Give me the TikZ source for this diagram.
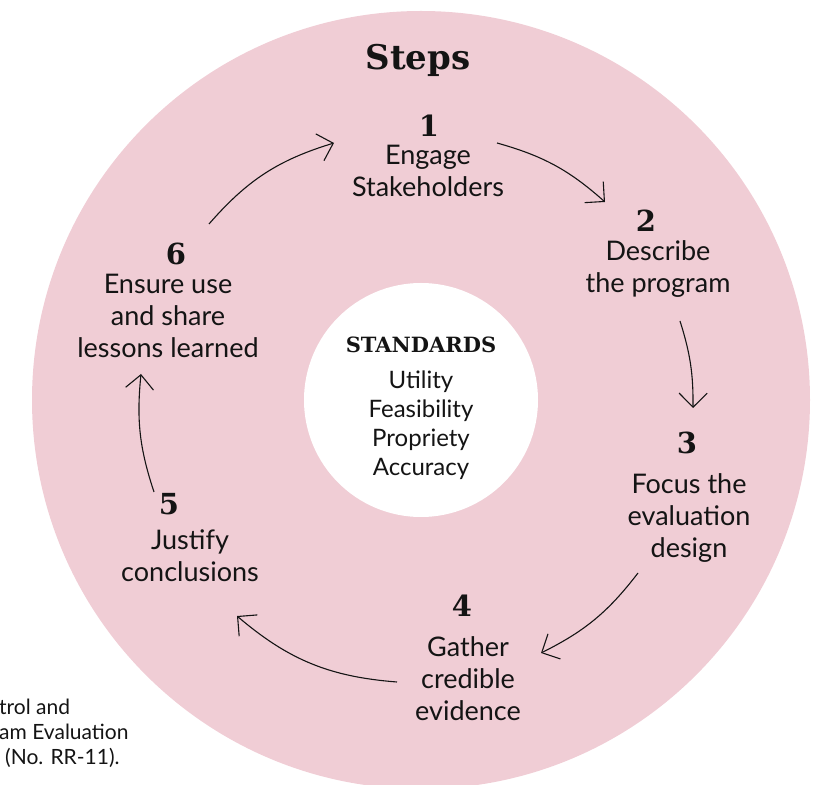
\documentclass[tikz,border=0pt]{standalone}
\usepackage{fontspec}
\usepackage{xcolor}
\usetikzlibrary{arrows.meta}
\newfontfamily\stepfont{Lato}
\newfontfamily\headfont{DejaVu Serif}
\definecolor{ringpink}{RGB}{240,205,213}
\definecolor{inkc}{RGB}{20,20,20}

\tikzset{
  steptext/.style={font=\stepfont\fontsize{27}{32}\selectfont, align=center, anchor=base, inner sep=0pt, text=inkc},
  stepnum/.style={font=\headfont\bfseries\fontsize{29}{29}\selectfont, anchor=base, inner sep=0pt, text=inkc},
  cyclearrow/.style={-{Straight Barb[length=14pt,width=28pt]}, line width=1.1pt, draw=inkc},
}

\begin{document}
\begin{tikzpicture}[x=1pt,y=1pt]
    \useasboundingbox (0,0) rectangle (820,785);
    \fill[ringpink] (421,385) circle (389);
    \fill[white] (421,385) circle (117);

    \node[stepnum, font=\headfont\bfseries\fontsize{34}{34}\selectfont] (title) at (418,715) {Steps};
    \node[stepnum, font=\headfont\bfseries\fontsize{21}{21}\selectfont] (std) at (421,432) {STANDARDS};
    \node[steptext, font=\stepfont\fontsize{24}{29}\selectfont] (stdlist) at (421,309) {Utility\\Feasibility\\Propriety\\Accuracy};

    % step labels (base = last line)
    \node[stepnum] (n1) at (429,648) {1};
    \node[steptext] (s1) at (428,588) {Engage\\Stakeholders};
    \node[stepnum] (n2) at (646,553) {2};
    \node[steptext] (s2) at (658,492) {Describe\\the program};
    \node[stepnum] (n3) at (687,331) {3};
    \node[steptext] (s3) at (689,227) {Focus the\\evaluation\\design};
    \node[stepnum] (n4) at (462,168) {4};
    \node[steptext] (s4) at (468,64) {Gather\\credible\\evidence};
    \node[stepnum] (n5) at (169,270) {5};
    \node[steptext] (s5) at (190,203) {Justify\\conclusions};
    \node[stepnum] (n6) at (176,520) {6};
    \node[steptext] (s6) at (168,427) {Ensure use\\and share\\lessons learned};

    % arrow ends
    \coordinate (a1) at (497,642); \coordinate (b1) at (605,583);
    \coordinate (a2) at (680,464); \coordinate (b2) at (693,377);
    \coordinate (a3) at (638,212); \coordinate (b3) at (541,132);
    \coordinate (a4) at (397,103); \coordinate (b4) at (237,169);
    \coordinate (a5) at (154,293); \coordinate (b5) at (141,411);
    \coordinate (a6) at (209,561); \coordinate (b6) at (334,642);

    \draw[cyclearrow] (a1) to[bend left=13] (b1);
    \draw[cyclearrow] (a2) to[bend left=9] (b2);
    \draw[cyclearrow] (a3) to[bend left=13] (b3);
    \draw[cyclearrow] (a4) to[bend left=18] (b4);
    \draw[cyclearrow] (a5) to[bend left=12] (b5);
    \draw[cyclearrow] (a6) to[bend left=16] (b6);

    % cut-off source note
    \node[steptext, font=\stepfont\fontsize{21}{25}\selectfont, align=left, anchor=base west] (note) at (-1,20) {trol and\\am Evaluation\\\hspace*{6pt}(No. RR-11).};
\end{tikzpicture}
\end{document}
